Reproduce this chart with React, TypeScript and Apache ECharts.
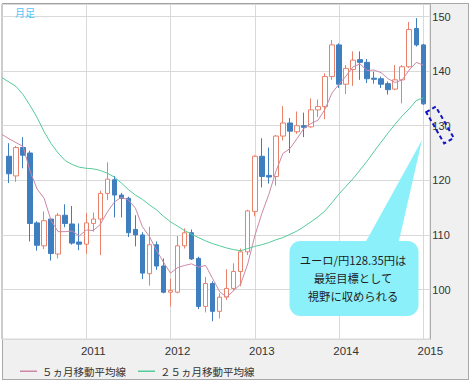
import React, { useEffect, useRef } from "react";
import * as echarts from "echarts";

// Monthly categories: Jan 2010 .. Feb 2015
const categories: string[] = [];
for (let y = 2010; y <= 2015; y++) {
  for (let m = 1; m <= 12; m++) {
    if (y === 2015 && m > 2) break;
    categories.push(`${y}/${m < 10 ? "0" + m : m}`);
  }
}

const opens = [null, 124.4, 120.8, 126.0, 125.0, 112.2, 108.0, 112.9, 106.5, 113.6, 112.0, 108.7,
  108.3, 112.1, 112.9, 117.6, 120.1, 117.3, 116.7, 111.0, 110.0, 102.9, 108.2, 104.3,
  99.5, 99.5, 108.0, 110.4, 105.7, 96.9, 101.1, 96.0, 98.6, 100.2, 103.3, 106.9,
  114.3, 124.4, 120.9, 120.7, 128.1, 130.5, 128.9, 130.0, 129.8, 132.9, 133.5, 139.0,
  144.8, 137.6, 140.3, 142.1, 141.6, 138.7, 138.6, 137.7, 136.7, 138.4, 140.8, 147.8,
  144.8, null];
const closes = [null, 121.2, 126.0, 124.6, 112.1, 108.1, 112.6, 106.6, 113.6, 112.1, 108.5, 108.3,
  112.2, 112.9, 117.6, 120.2, 117.3, 116.7, 110.4, 110.0, 103.0, 108.2, 104.3, 99.5,
  99.8, 108.0, 110.4, 105.6, 96.9, 101.1, 96.0, 98.6, 100.2, 103.3, 106.9, 114.4,
  124.4, 120.7, 120.6, 128.1, 130.5, 129.0, 130.0, 129.7, 132.9, 133.5, 139.0, 144.8,
  137.6, 140.5, 142.0, 141.6, 138.6, 138.5, 137.6, 136.6, 138.4, 140.8, 147.6, 144.8,
  134.0, null];
const lows = [null, 119.5, 119.7, 122.2, 108.8, 107.1, 107.4, 105.3, 105.7, 111.4, 108.2, 107.2,
  106.5, 110.6, 106.3, 116.4, 113.2, 113.2, 109.6, 107.9, 101.9, 100.7, 103.6, 99.3,
  96.9, 99.3, 107.5, 105.4, 96.4, 95.8, 94.2, 94.7, 98.1, 99.8, 100.6, 106.3,
  113.4, 118.7, 119.4, 119.0, 127.3, 125.0, 128.5, 127.9, 129.6, 131.6, 131.2, 138.4,
  136.9, 135.8, 137.3, 138.4, 137.8, 137.7, 136.9, 135.7, 136.5, 134.1, 140.6, 144.5,
  133.8, null];
const highs = [null, 126.8, 126.3, 127.9, 125.4, 112.5, 114.3, 113.0, 114.0, 115.6, 115.3, 112.1,
  114.0, 114.1, 118.1, 123.3, 120.8, 117.7, 117.0, 113.6, 110.5, 111.5, 108.8, 105.7,
  102.0, 109.8, 111.2, 111.0, 106.0, 102.3, 101.5, 99.3, 103.7, 104.8, 107.5, 114.6,
  124.6, 127.7, 126.0, 128.3, 133.6, 131.4, 132.6, 132.4, 135.0, 134.8, 139.6, 145.7,
  145.1, 141.1, 143.6, 143.6, 142.2, 139.9, 139.0, 138.1, 141.1, 141.1, 149.0, 149.7,
  145.0, null];

const ma5 = [128.4, 127.6, 126.9, 126.2, 121.7, 118.4, 116.7, 112.6, 110.6, 110.6, 110.7, 109.8,
  110.9, 110.8, 111.9, 114.2, 116.0, 116.9, 116.4, 114.9, 111.5, 109.7, 107.2, 105.0,
  103.0, 104.0, 104.4, 104.7, 104.1, 104.4, 102.0, 99.6, 98.6, 99.8, 101.0, 104.7,
  109.8, 113.9, 117.4, 121.6, 124.9, 125.8, 127.6, 129.5, 130.4, 131.0, 133.0, 136.0,
  137.6, 139.1, 140.8, 141.3, 140.1, 140.2, 139.7, 138.6, 137.9, 138.4, 140.2, 141.6,
  141.1, null];
const ma25 = [138.8, 138.0, 137.2, 135.7, 133.7, 131.5, 128.9, 126.7, 125.0, 123.6, 122.9, 122.4,
  122.2, 122.1, 121.8, 121.3, 120.6, 119.5, 118.3, 117.3, 116.5, 115.5, 114.6, 113.4,
  112.4, 111.6, 110.8, 110.1, 109.5, 108.9, 108.4, 108.0, 107.6, 107.3, 107.1, 107.5,
  107.9, 108.2, 108.6, 109.1, 109.5, 110.1, 110.7, 111.5, 112.4, 113.3, 114.4, 115.9,
  117.5, 118.9, 120.3, 121.9, 123.5, 125.3, 127.0, 128.7, 130.3, 131.8, 133.1, 134.6,
  135.1, null];

const seriesNames = ["５ヵ月移動平均線", "２５ヵ月移動平均線"];
const calloutText = "ユーロ/円128.35円は\n最短目標として\n視野に収められる";
const frameLabel = "月足";

const UP = "#e8826a";
const DOWN = "#3f7fc0";
const MA5C = "#cc88a8";
const MA25C = "#55cc99";
const BUBBLE = "#8cf0fa";

export default function App() {
  const ref = useRef<HTMLDivElement>(null);
  useEffect(() => {
    if (!ref.current) return;
    const chart = echarts.init(ref.current, null, { renderer: "svg" });
    const candleData = categories.map((_, i) =>
      opens[i] == null ? "-" : [opens[i], closes[i], lows[i], highs[i]]
    );
    chart.setOption({
      animation: false,
      backgroundColor: "transparent",
      grid: {
        left: 2,
        top: 4,
        right: 41.7,
        bottom: 45.7,
        show: true,
        backgroundColor: "#ffffff",
        borderColor: "#9a9a9a",
        borderWidth: 1,
        containLabel: false,
        outerBoundsMode: "none",
      },
      legend: {
        left: 15,
        top: 361,
        icon: "rect",
        itemWidth: 17,
        itemHeight: 1.5,
        itemGap: 12,
        data: seriesNames,
        textStyle: {
          fontFamily: "Noto Sans CJK JP",
          fontSize: 10.5,
          color: "#333",
        },
      },
      xAxis: {
        type: "category",
        data: categories,
        boundaryGap: false,
        axisLine: { show: false },
        axisTick: { show: false },
        axisLabel: {
          interval: (index: number) => index % 12 === 1 && index > 1,
          formatter: (v: string) => v.slice(0, 4),
          fontFamily: "Liberation Sans",
          fontSize: 11.5,
          color: "#333",
          margin: 6,
        },
        splitLine: {
          show: true,
          interval: (index: number) => index % 12 === 0 && index > 0,
          lineStyle: { color: "#d9d9d9", width: 1 },
        },
      },
      yAxis: {
        type: "value",
        position: "right",
        min: 90.88,
        max: 152.29,
        splitNumber: 5,
        axisLine: { show: false },
        axisTick: { show: false },
        axisLabel: {
          formatter: (v: number) =>
            Math.abs(v - Math.round(v / 10) * 10) < 1e-6 ? String(Math.round(v)) : "",
          fontFamily: "Liberation Sans",
          fontSize: 11,
          color: "#333",
          margin: 2,
        },
        splitLine: { show: true, lineStyle: { color: "#d9d9d9", width: 1 } },
      },
      series: [
        {
          type: "candlestick",
          data: candleData,
          barWidth: 5,
          z: 2,
          itemStyle: {
            color: "#ffffff",
            color0: DOWN,
            borderColor: UP,
            borderColor0: DOWN,
            borderWidth: 1,
          },
        },
        {
          name: seriesNames[0],
          type: "line",
          data: ma5,
          showSymbol: false,
          z: 3,
          itemStyle: { color: MA5C },
          lineStyle: { color: MA5C, width: 1 },
        },
        {
          name: seriesNames[1],
          type: "line",
          data: ma25,
          showSymbol: false,
          z: 3,
          itemStyle: { color: MA25C },
          lineStyle: { color: MA25C, width: 1 },
        },
      ],
      graphic: [
        {
          type: "text",
          left: 15,
          top: 7,
          z: 100,
          style: {
            text: frameLabel,
            fontSize: 10,
            fontFamily: "Noto Sans CJK JP",
            fill: "#4fc4f4",
          },
        },
        {
          type: "polygon",
          z: 100,
          shape: { points: [[422, 140], [364, 245], [398, 245]] },
          style: { fill: BUBBLE },
        },
        {
          type: "rect",
          z: 100,
          shape: { x: 289.5, y: 241, width: 129, height: 75, r: 11 },
          style: { fill: BUBBLE },
        },
        {
          type: "text",
          z: 101,
          x: 353,
          y: 278,
          style: {
            text: calloutText,
            fontSize: 11.3,
            lineHeight: 18,
            fontFamily: "Noto Sans CJK JP",
            fill: "#1e1e1e",
            align: "center",
            verticalAlign: "middle",
          },
        },
        {
          type: "polygon",
          z: 102,
          shape: {
            points: [[426.2, 112.2], [435.8, 106.7], [453.8, 137.9], [444.2, 143.4]],
          },
          style: { fill: "none", stroke: "#1414c8", lineWidth: 2, lineDash: [4, 3] },
        },
      ],
    });
    return () => chart.dispose();
  }, []);
  return (
    <div style={{ position: "fixed", left: 0, top: 0, width: 472, height: 385, background: "#fff" }}>
      <div
        style={{
          position: "absolute",
          left: 2,
          top: 3,
          width: 467,
          height: 377,
          boxSizing: "border-box",
          border: "1px solid #a8a8a8",
          background: "#f0f0f0",
        }}
      />
      <div ref={ref} style={{ position: "absolute", left: 0, top: 0, width: 472, height: 385 }} />
    </div>
  );
}
